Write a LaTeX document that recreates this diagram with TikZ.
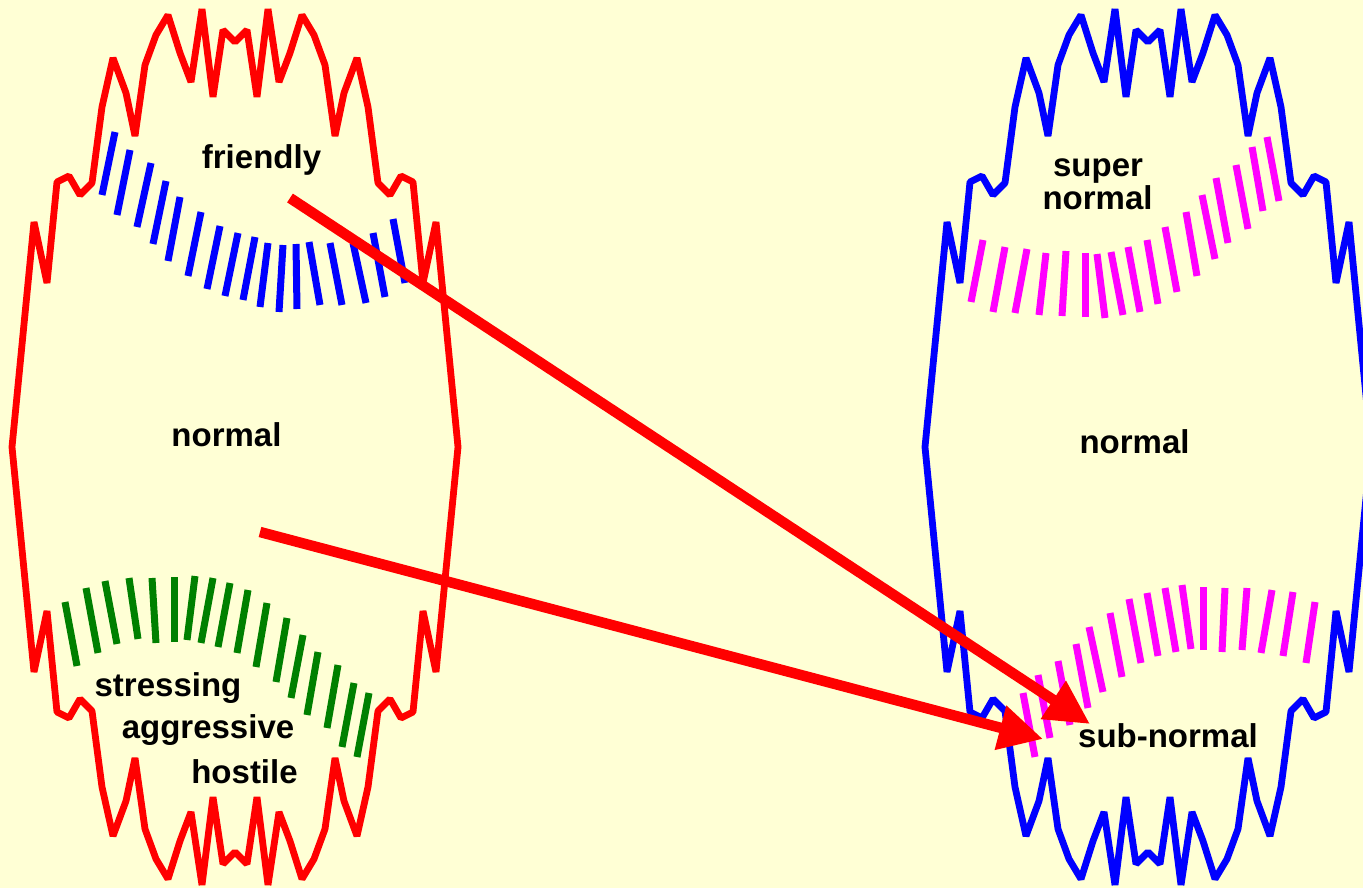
\documentclass[tikz,border=0pt]{standalone}
\usepackage{fontspec}
\setmainfont{Liberation Sans}
\usetikzlibrary{arrows.meta}
\definecolor{bg}{RGB}{255,255,213}
\definecolor{dgreen}{RGB}{0,128,0}
\definecolor{mag}{RGB}{255,0,255}
\definecolor{pred}{RGB}{255,0,0}
\definecolor{pblue}{RGB}{0,0,255}
\begin{document}
\begin{tikzpicture}[x=1pt,y=-1pt,
  outline/.style={line width=6.8pt,line join=bevel},
  tick/.style={line width=7pt},
  lbl/.style={font=\fontsize{33}{33}\selectfont\bfseries,inner sep=0pt,text=black,anchor=base},
  bigarrow/.style={draw=pred,line width=10.5pt,-{Triangle[length=44pt,width=43pt,fill=pred]}}]
\fill[bg] (0,0) rectangle (1363,888);
\useasboundingbox (0,0) rectangle (1363,888);
\clip (0,0) rectangle (1363,888);
% outlines
\foreach \cx/\col in {235/pred,1148/pblue}{
  \draw[outline,draw=\col,shift={(\cx,447)}]
    (-223,0) -- (-201,-225) -- (-188,-164) -- (-178,-265) -- (-166,-271) -- (-155,-252) -- (-143,-264)
    -- (-133,-340) -- (-122,-389) -- (-109,-354) -- (-100,-311) -- (-90,-382) -- (-79,-412) -- (-67,-432)
    -- (-55,-394) -- (-44,-365) -- (-33,-438) -- (-22,-350) -- (-12,-417) -- (0,-405)
    -- (12,-417) -- (22,-350) -- (33,-438) -- (44,-365) -- (55,-394) -- (67,-432) -- (79,-412) -- (90,-382)
    -- (100,-311) -- (109,-354) -- (122,-389) -- (133,-340) -- (143,-264) -- (155,-252) -- (166,-271)
    -- (178,-265) -- (188,-164) -- (201,-225) -- (223,0)
    -- (201,225) -- (188,164) -- (178,265) -- (166,271) -- (155,252) -- (143,264) -- (133,340) -- (122,389)
    -- (109,354) -- (100,311) -- (90,382) -- (79,412) -- (67,432) -- (55,394) -- (44,365) -- (33,438)
    -- (22,350) -- (12,417) -- (0,405)
    -- (-12,417) -- (-22,350) -- (-33,438) -- (-44,365) -- (-55,394) -- (-67,432) -- (-79,412) -- (-90,382)
    -- (-100,311) -- (-109,354) -- (-122,389) -- (-133,340) -- (-143,264) -- (-155,252) -- (-166,271)
    -- (-178,265) -- (-188,164) -- (-201,225) -- cycle;
}
% blue ticks (left, top)
\foreach \a/\b/\c/\d in {102/195/115/132,117/215/130/150,137/227/151/163,153/244/166/181,168/261/180/197,
  188/276/201/212,207/289/220/226,225/296/238/233,243/300/255/237,260/307/268/243,279/312/283/245,
  297/309/296/244,320/305/309/242,342/305/330/243,366/303/353/243,385/297/373/233,405/283/393/219}
  \draw[tick,pblue] (\a,\b) -- (\c,\d);
% green ticks (left, bottom)
\foreach \a/\b/\c/\d in {77/666/65/602,98/653/86/588,117/644/105/581,138/639/129/578,156/643/152/578,
  174/642/174/577,187/640/195/576,201/643/213/578,218/647/230/583,237/653/248/590,256/667/267/603,
  276/682/287/618,291/698/303/635,307/715/318/652,327/728/338/665,342/747/354/683,357/757/369/693}
  \draw[tick,dgreen] (\a,\b) -- (\c,\d);
% magenta ticks (right, top)
\foreach \a/\b/\c/\d in {971/302/983/240,993/312/1005/247,1015/313/1027/249,1039/315/1046/253,
  1062/316/1066/251,1085/317/1085/253,1105/318/1097/254,1123/315/1111/252,1140/312/1128/247,
  1158/304/1147/240,1177/292/1165/227,1197/276/1186/212,1215/259/1202/195,1228/243/1216/178,
  1248/229/1236/165,1263/211/1252/147,1279/201/1267/137}
  \draw[tick,mag] (\a,\b) -- (\c,\d);
% magenta ticks (right, bottom)
\foreach \a/\b/\c/\d in {1035/757/1023/693,1050/738/1038/675,1070/725/1058/661,1088/708/1076/644,
  1103/692/1089/627,1122/677/1110/613,1141/663/1129/599,1158/656/1147/593,1176/652/1165/588,
  1191/649/1182/585,1203/650/1203/587,1222/652/1225/588,1242/650/1247/588,1261/653/1272/590,
  1283/656/1293/592,1306/663/1315/602}
  \draw[tick,mag] (\a,\b) -- (\c,\d);
% labels
\node[lbl] (friendly) at (261.5,168) {friendly};
\node[lbl] (normalL) at (226.5,446) {normal};
\node[lbl] (stressing) at (168,696) {stressing};
\node[lbl] (aggressive) at (208,738) {aggressive};
\node[lbl] (hostile) at (244.5,783) {hostile};
\node[lbl] (super) at (1098,177) {super};
\node[lbl] (supernormal) at (1097.5,209) {normal};
\node[lbl] (normalR) at (1134.5,453) {normal};
\node[lbl] (subnormal) at (1168,747) {sub-normal};
% arrows
\coordinate (a1s) at (290,198);
\coordinate (a1e) at (1090,724);
\coordinate (a2s) at (260,532);
\coordinate (a2e) at (1043,739);
\draw[bigarrow] (a1s) -- (a1e);
\draw[bigarrow] (a2s) -- (a2e);
\end{tikzpicture}
\end{document}
